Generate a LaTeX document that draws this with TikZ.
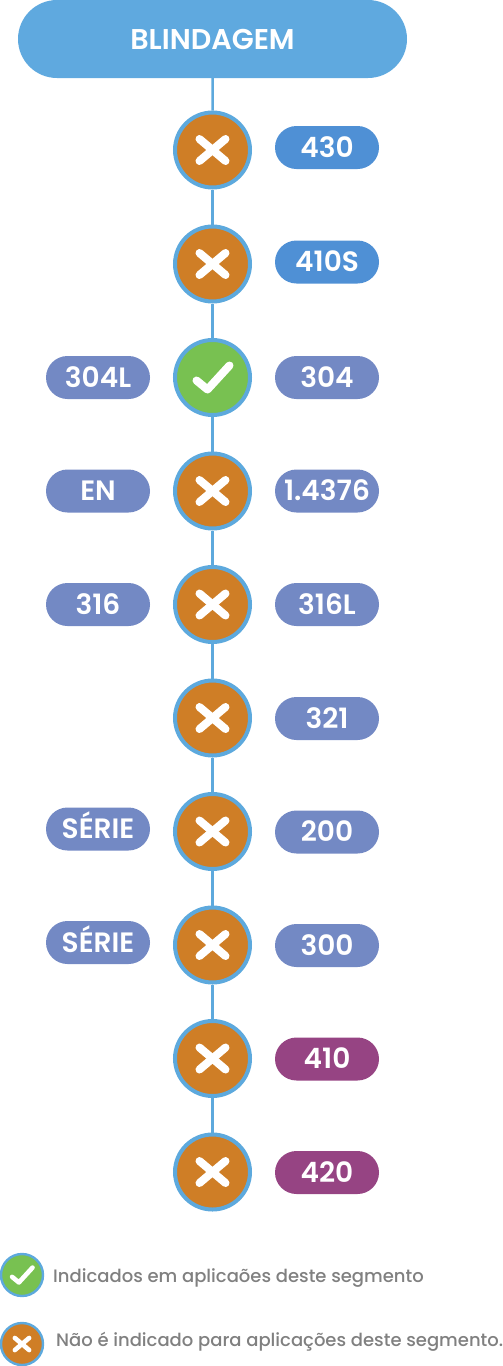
\documentclass[tikz,border=0pt]{standalone}
\usepackage{fontspec}
\setmainfont{Poppins}
\newfontfamily\popsemi{Poppins SemiBold}
\newfontfamily\popmed{Poppins Medium}
\usetikzlibrary{shapes.misc}
\definecolor{ring}{HTML}{5DA9DD}
\definecolor{headc}{HTML}{5FA9DF}
\definecolor{orangec}{HTML}{CF7E26}
\definecolor{greenc}{HTML}{78C151}
\definecolor{bluep}{HTML}{4F90D5}
\definecolor{perip}{HTML}{7389C4}
\definecolor{purplep}{HTML}{964483}
\definecolor{greyt}{HTML}{808080}
\tikzset{
  x=1pt,y=-1pt,
  header/.style={rounded rectangle,fill=headc,minimum width=389pt,minimum height=78pt,inner sep=0pt,text=white,font=\popsemi\fontsize{28.6}{28.6}\selectfont,text height=20pt,text depth=0pt},
  pill/.style={rounded rectangle,minimum width=104pt,minimum height=43pt,inner sep=0pt,text=white,font=\popsemi\fontsize{28}{28}\selectfont,text height=19pt,text depth=0pt},
  pblue/.style={pill,fill=bluep},
  pperi/.style={pill,fill=perip},
  ppurp/.style={pill,fill=purplep},
  badge/.style={circle,draw=ring,line width=4pt,minimum size=75pt,inner sep=0pt},
  nobadge/.style={badge,fill=orangec},
  yesbadge/.style={badge,fill=greenc},
  smallno/.style={nobadge,line width=2.4pt,minimum size=42pt},
  smallyes/.style={yesbadge,line width=2.4pt,minimum size=42pt},
  link/.style={draw=ring,line width=2.5pt},
  glyphline/.style={draw=white,line cap=round,line join=round},
  legend/.style={text=greyt,anchor=west,inner sep=0pt,font=\popmed\fontsize{18}{20}\selectfont},
}
\newcommand{\crossglyph}[3]{% node, scale, width
  \draw[glyphline,line width=#3pt] ([shift={(-#2*13,-#2*11)}]#1.center) -- ([shift={(#2*13,#2*11)}]#1.center);
  \draw[glyphline,line width=#3pt] ([shift={(-#2*13,#2*11)}]#1.center) -- ([shift={(#2*13,-#2*11)}]#1.center);}
\newcommand{\tickglyph}[3]{%
  \draw[glyphline,line width=#3pt] ([shift={(-#2*16,#2*3)}]#1.center) -- ([shift={(-#2*5,#2*12)}]#1.center) -- ([shift={(#2*17,-#2*12)}]#1.center);}
\begin{document}
\begin{tikzpicture}
\useasboundingbox (0,0) rectangle (503,1366);
\node[header] (hdr) at (212.5,39) {BLINDAGEM};
\node[nobadge]  (c1)  at (212.5,150) {};
\node[nobadge]  (c2)  at (212.5,264) {};
\node[yesbadge] (c3)  at (212.5,377.5) {};
\node[nobadge]  (c4)  at (212.5,491) {};
\node[nobadge]  (c5)  at (212.5,604.5) {};
\node[nobadge]  (c6)  at (212.5,718) {};
\node[nobadge]  (c7)  at (212.5,831.5) {};
\node[nobadge]  (c8)  at (212.5,945) {};
\node[nobadge]  (c9)  at (212.5,1058.5) {};
\node[nobadge]  (c10) at (212.5,1172) {};
\draw[link] (hdr) -- (c1);
\draw[link] (c1) -- (c2);
\draw[link] (c2) -- (c3);
\draw[link] (c3) -- (c4);
\draw[link] (c4) -- (c5);
\draw[link] (c5) -- (c6);
\draw[link] (c6) -- (c7);
\draw[link] (c7) -- (c8);
\draw[link] (c8) -- (c9);
\draw[link] (c9) -- (c10);
\crossglyph{c1}{1}{8}
\crossglyph{c2}{1}{8}
\tickglyph{c3}{1}{8}
\crossglyph{c4}{1}{8}
\crossglyph{c5}{1}{8}
\crossglyph{c6}{1}{8}
\crossglyph{c7}{1}{8}
\crossglyph{c8}{1}{8}
\crossglyph{c9}{1}{8}
\crossglyph{c10}{1}{8}
\node[pblue] (r1) at (327,147.5) {430};
\node[pblue] (r2) at (327,262) {410S};
\node[pperi] (r3) at (327,377.5) {304};
\node[pperi] (r4) at (327,491) {1.4376};
\node[pperi] (r5) at (327,604.5) {316L};
\node[pperi] (r6) at (327,718.5) {321};
\node[pperi] (r7) at (327,832) {200};
\node[pperi] (r8) at (327,945.5) {300};
\node[ppurp] (r9) at (327,1059) {410};
\node[ppurp] (r10) at (327,1172.5) {420};
\node[pperi] (l3) at (98,377.5) {304L};
\node[pperi] (l4) at (98,491) {EN};
\node[pperi] (l5) at (98,604.5) {316};
\node[pperi] (l7) at (98,829) {SÉRIE};
\node[pperi] (l8) at (98,942.5) {SÉRIE};
\node[smallyes] (ly) at (22,1275) {};
\node[smallno] (ln) at (22,1344) {};
\tickglyph{ly}{0.62}{4.6}
\crossglyph{ln}{0.55}{4.6}
\node[legend] (ty) at (53,1278) {Indicados em aplicaões deste segmento};
\node[legend] (tn) at (56,1342) {Não é indicado para aplicações deste segmento.};
\end{tikzpicture}
\end{document}
